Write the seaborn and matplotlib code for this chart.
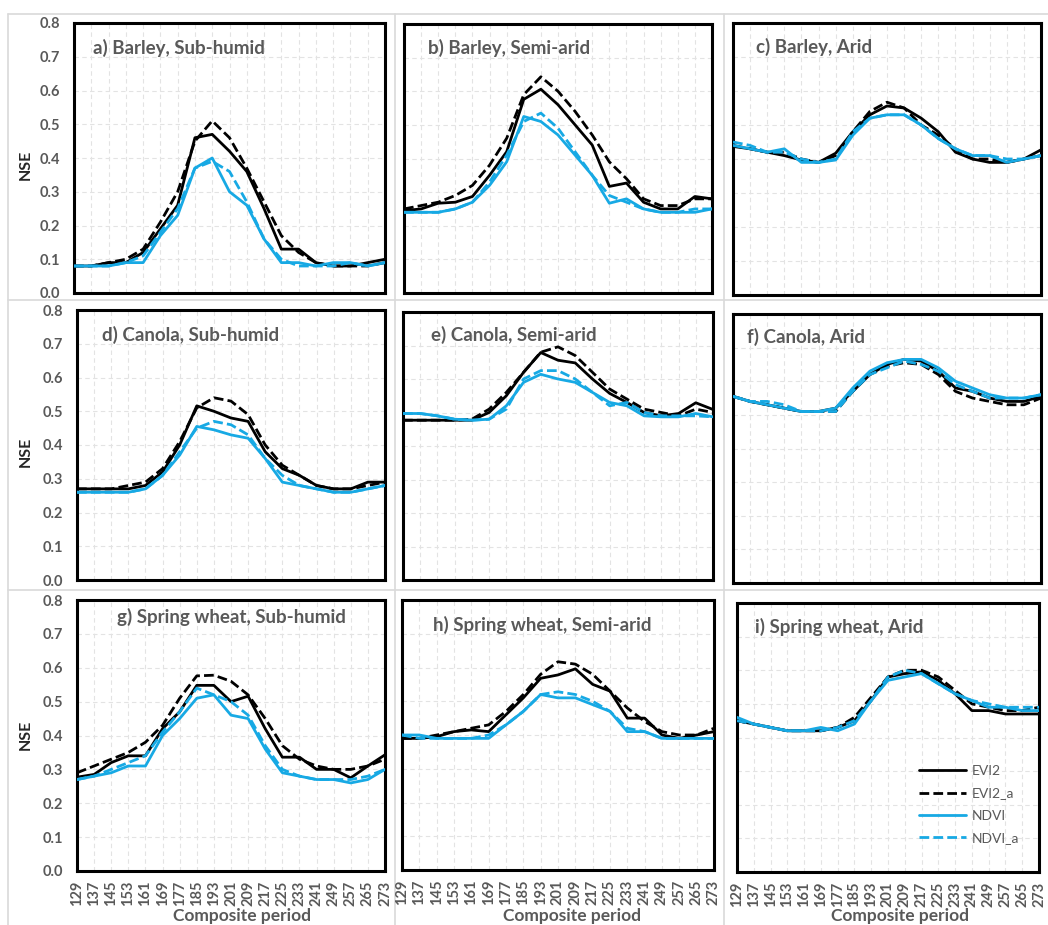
import numpy as np
import pandas as pd
import matplotlib
matplotlib.use("Agg")
import matplotlib.pyplot as plt
from matplotlib.lines import Line2D
import seaborn as sns

# ---------------- data ----------------
periods = [129, 137, 145, 153, 161, 169, 177, 185, 193, 201, 209, 217, 225, 233, 241, 249, 257, 265, 273]
series_names = ["EVI2", "EVI2_a", "NDVI", "NDVI_a"]
panel_titles = ["a) Barley, Sub-humid", "b) Barley, Semi-arid", "c) Barley, Arid",
                "d) Canola, Sub-humid", "e) Canola, Semi-arid", "f) Canola, Arid",
                "g) Spring wheat, Sub-humid", "h) Spring wheat, Semi-arid", "i) Spring wheat, Arid"]
y_ticks = [0.0, 0.1, 0.2, 0.3, 0.4, 0.5, 0.6, 0.7, 0.8]

# a) Barley, Sub-humid
a_evi2   = [0.08, 0.08, 0.09, 0.09, 0.12, 0.19, 0.26, 0.46, 0.47, 0.42, 0.36, 0.25, 0.13, 0.13, 0.09, 0.08, 0.08, 0.09, 0.10]
a_evi2a  = [0.08, 0.08, 0.09, 0.10, 0.13, 0.21, 0.30, 0.45, 0.51, 0.46, 0.37, 0.27, 0.17, 0.12, 0.09, 0.08, 0.08, 0.08, 0.09]
a_ndvi   = [0.08, 0.08, 0.08, 0.09, 0.09, 0.17, 0.23, 0.37, 0.40, 0.30, 0.26, 0.16, 0.09, 0.09, 0.08, 0.09, 0.09, 0.08, 0.09]
a_ndvia  = [0.08, 0.08, 0.08, 0.09, 0.11, 0.18, 0.25, 0.37, 0.39, 0.36, 0.27, 0.16, 0.10, 0.08, 0.08, 0.08, 0.09, 0.08, 0.09]
# b) Barley, Semi-arid
b_evi2   = [0.245, 0.25, 0.267, 0.27, 0.287, 0.35, 0.42, 0.576, 0.606, 0.56, 0.50, 0.44, 0.317, 0.327, 0.27, 0.25, 0.25, 0.287, 0.28]
b_evi2a  = [0.25, 0.26, 0.27, 0.29, 0.32, 0.38, 0.46, 0.59, 0.643, 0.60, 0.54, 0.47, 0.39, 0.34, 0.28, 0.26, 0.26, 0.28, 0.28]
b_ndvi   = [0.24, 0.24, 0.24, 0.25, 0.27, 0.32, 0.39, 0.525, 0.51, 0.47, 0.41, 0.35, 0.267, 0.28, 0.25, 0.24, 0.24, 0.24, 0.25]
b_ndvia  = [0.24, 0.24, 0.24, 0.25, 0.27, 0.33, 0.41, 0.51, 0.535, 0.49, 0.42, 0.35, 0.29, 0.27, 0.25, 0.24, 0.24, 0.25, 0.25]
# c) Barley, Arid
c_evi2   = [0.437, 0.43, 0.42, 0.41, 0.397, 0.39, 0.417, 0.48, 0.53, 0.556, 0.55, 0.52, 0.48, 0.42, 0.40, 0.39, 0.39, 0.40, 0.427]
c_evi2a  = [0.44, 0.43, 0.42, 0.42, 0.40, 0.39, 0.41, 0.48, 0.54, 0.567, 0.55, 0.50, 0.47, 0.43, 0.40, 0.40, 0.39, 0.40, 0.41]
c_ndvi   = [0.44, 0.43, 0.42, 0.43, 0.39, 0.39, 0.397, 0.47, 0.52, 0.53, 0.53, 0.50, 0.46, 0.43, 0.41, 0.41, 0.39, 0.40, 0.41]
c_ndvia  = [0.45, 0.44, 0.42, 0.42, 0.40, 0.39, 0.40, 0.48, 0.52, 0.53, 0.53, 0.50, 0.46, 0.43, 0.41, 0.41, 0.40, 0.40, 0.41]
# d) Canola, Sub-humid
d_evi2   = [0.27, 0.27, 0.27, 0.27, 0.28, 0.32, 0.40, 0.516, 0.50, 0.48, 0.47, 0.38, 0.33, 0.31, 0.28, 0.27, 0.27, 0.29, 0.29]
d_evi2a  = [0.27, 0.27, 0.27, 0.28, 0.29, 0.33, 0.41, 0.51, 0.54, 0.53, 0.49, 0.40, 0.34, 0.31, 0.28, 0.27, 0.27, 0.28, 0.29]
d_ndvi   = [0.26, 0.26, 0.26, 0.26, 0.27, 0.31, 0.37, 0.455, 0.445, 0.43, 0.42, 0.36, 0.29, 0.28, 0.27, 0.26, 0.26, 0.27, 0.28]
d_ndvia  = [0.26, 0.26, 0.26, 0.26, 0.27, 0.31, 0.38, 0.45, 0.47, 0.46, 0.43, 0.36, 0.31, 0.28, 0.27, 0.26, 0.26, 0.27, 0.28]
# e) Canola, Semi-arid
e_evi2   = [0.477, 0.477, 0.477, 0.477, 0.477, 0.50, 0.55, 0.62, 0.679, 0.656, 0.648, 0.60, 0.557, 0.53, 0.50, 0.49, 0.497, 0.529, 0.509]
e_evi2a  = [0.477, 0.477, 0.477, 0.477, 0.48, 0.51, 0.56, 0.62, 0.68, 0.696, 0.67, 0.62, 0.57, 0.54, 0.51, 0.50, 0.49, 0.51, 0.50]
e_ndvi   = [0.497, 0.497, 0.49, 0.48, 0.477, 0.48, 0.52, 0.59, 0.614, 0.60, 0.59, 0.56, 0.53, 0.52, 0.49, 0.487, 0.487, 0.497, 0.487]
e_ndvia  = [0.497, 0.497, 0.49, 0.48, 0.477, 0.48, 0.51, 0.60, 0.625, 0.625, 0.60, 0.56, 0.52, 0.53, 0.50, 0.49, 0.49, 0.49, 0.487]
# f) Canola, Arid
f_evi2   = [0.555, 0.54, 0.53, 0.52, 0.51, 0.51, 0.52, 0.57, 0.62, 0.65, 0.665, 0.66, 0.63, 0.58, 0.57, 0.55, 0.54, 0.54, 0.555]
f_evi2a  = [0.555, 0.54, 0.53, 0.52, 0.51, 0.51, 0.51, 0.57, 0.62, 0.645, 0.655, 0.65, 0.62, 0.57, 0.55, 0.54, 0.53, 0.53, 0.55]
f_ndvi   = [0.555, 0.54, 0.53, 0.52, 0.51, 0.51, 0.52, 0.58, 0.63, 0.655, 0.665, 0.665, 0.64, 0.60, 0.58, 0.56, 0.55, 0.55, 0.56]
f_ndvia  = [0.555, 0.54, 0.54, 0.53, 0.51, 0.51, 0.51, 0.57, 0.62, 0.64, 0.66, 0.65, 0.63, 0.59, 0.57, 0.55, 0.55, 0.55, 0.56]
# g) Spring wheat, Sub-humid
g_evi2   = [0.277, 0.285, 0.32, 0.34, 0.34, 0.42, 0.47, 0.548, 0.548, 0.50, 0.516, 0.42, 0.336, 0.336, 0.30, 0.30, 0.275, 0.31, 0.343]
g_evi2a  = [0.29, 0.31, 0.33, 0.35, 0.38, 0.43, 0.51, 0.576, 0.578, 0.56, 0.52, 0.45, 0.37, 0.33, 0.31, 0.30, 0.30, 0.31, 0.33]
g_ndvi   = [0.27, 0.28, 0.29, 0.31, 0.31, 0.40, 0.45, 0.51, 0.52, 0.46, 0.45, 0.36, 0.29, 0.28, 0.27, 0.27, 0.26, 0.27, 0.30]
g_ndvia  = [0.27, 0.28, 0.30, 0.32, 0.34, 0.41, 0.47, 0.54, 0.52, 0.50, 0.46, 0.37, 0.30, 0.28, 0.27, 0.27, 0.27, 0.28, 0.30]
# h) Spring wheat, Semi-arid
h_evi2   = [0.39, 0.39, 0.395, 0.41, 0.415, 0.41, 0.46, 0.51, 0.568, 0.578, 0.596, 0.55, 0.53, 0.45, 0.45, 0.40, 0.39, 0.40, 0.41]
h_evi2a  = [0.39, 0.39, 0.40, 0.41, 0.42, 0.43, 0.47, 0.52, 0.58, 0.617, 0.61, 0.58, 0.53, 0.48, 0.44, 0.41, 0.40, 0.40, 0.42]
h_ndvi   = [0.40, 0.40, 0.39, 0.39, 0.39, 0.39, 0.43, 0.47, 0.52, 0.51, 0.51, 0.49, 0.47, 0.41, 0.41, 0.39, 0.39, 0.39, 0.39]
h_ndvia  = [0.40, 0.39, 0.39, 0.39, 0.39, 0.40, 0.43, 0.47, 0.52, 0.528, 0.52, 0.50, 0.47, 0.42, 0.41, 0.39, 0.39, 0.39, 0.39]
# i) Spring wheat, Arid
i_evi2   = [0.45, 0.44, 0.43, 0.42, 0.42, 0.42, 0.43, 0.45, 0.51, 0.58, 0.59, 0.595, 0.57, 0.53, 0.48, 0.48, 0.47, 0.47, 0.47]
i_evi2a  = [0.45, 0.44, 0.43, 0.42, 0.42, 0.42, 0.43, 0.46, 0.52, 0.58, 0.60, 0.60, 0.58, 0.54, 0.50, 0.49, 0.48, 0.48, 0.49]
i_ndvi   = [0.46, 0.44, 0.43, 0.42, 0.42, 0.43, 0.42, 0.44, 0.51, 0.57, 0.58, 0.59, 0.56, 0.53, 0.51, 0.49, 0.49, 0.48, 0.48]
i_ndvia  = [0.45, 0.44, 0.43, 0.42, 0.42, 0.42, 0.43, 0.45, 0.51, 0.58, 0.60, 0.59, 0.56, 0.53, 0.51, 0.50, 0.49, 0.49, 0.49]

panel_data = [
    [a_evi2, a_evi2a, a_ndvi, a_ndvia],
    [b_evi2, b_evi2a, b_ndvi, b_ndvia],
    [c_evi2, c_evi2a, c_ndvi, c_ndvia],
    [d_evi2, d_evi2a, d_ndvi, d_ndvia],
    [e_evi2, e_evi2a, e_ndvi, e_ndvia],
    [f_evi2, f_evi2a, f_ndvi, f_ndvia],
    [g_evi2, g_evi2a, g_ndvi, g_ndvia],
    [h_evi2, h_evi2a, h_ndvi, h_ndvia],
    [i_evi2, i_evi2a, i_ndvi, i_ndvia],
]

# ---------------- style ----------------
sns.set_theme(style="white")
plt.rcParams['font.family'] = ['Lato', 'DejaVu Sans']

W, H = 1048, 925
fig = plt.figure(figsize=(W / 100, H / 100), dpi=100)
fig.patch.set_facecolor("white")

BLUE = "#17A9E4"
GREY_TXT = "#595959"
series_style = {
    "EVI2":   dict(color="black", dashes=None),
    "EVI2_a": dict(color="black", dashes=(3.5, 1.5)),
    "NDVI":   dict(color=BLUE, dashes=None),
    "NDVI_a": dict(color=BLUE, dashes=(3.5, 1.5)),
}

# axes boxes in pixels (left, top, right, bottom)
boxes = [
    (74, 23, 385, 293), (404, 24, 712, 293), (733, 23, 1041, 295),
    (77, 310, 385, 580), (403, 312, 713, 580), (733, 314, 1041, 583),
    (77, 600, 385, 871), (402, 600, 714, 870), (737, 603, 1039, 872),
]
title_pos = [(93, 48), (428, 48), (756, 47),
             (102, 335), (431, 335), (747, 337),
             (117, 617), (433, 625), (755, 627)]

# light grey frames of the individual charts
frame_c = "#d9d9d9"
for (x0, y0, x1, y1) in [(8, 14, 1048, 14), (8, 300, 1048, 300), (8, 590, 1048, 590),
                         (8, 14, 8, 925), (395, 14, 395, 925), (724, 14, 724, 925)]:
    fig.add_artist(Line2D([x0 / W, x1 / W], [1 - y0 / H, 1 - y1 / H],
                          transform=fig.transFigure, color=frame_c, lw=1.2, zorder=0))

axes = []
for k, (l, t, r, b) in enumerate(boxes):
    ax = fig.add_axes([l / W, 1 - b / H, (r - l) / W, (b - t) / H])
    axes.append(ax)
    for name, vals in zip(series_names, panel_data[k]):
        df = pd.DataFrame({"period": periods, "NSE": vals})
        st = series_style[name]
        kw = dict(x="period", y="NSE", data=df, ax=ax, color=st["color"], lw=2,
                  label=name, zorder=3)
        line = sns.lineplot(**kw).lines[-1]
        if st["dashes"] is not None:
            line.set_dashes(st["dashes"])
    ax.set_xlim(periods[0], periods[-1])
    ax.set_ylim(0, 0.8)
    ax.set_xticks(periods)
    ax.set_yticks(y_ticks)
    ax.grid(True, color="#e3e3e3", lw=0.8, ls=(0, (4, 3)), zorder=0)
    for sp in ax.spines.values():
        sp.set_visible(True)
        sp.set_color("black")
        sp.set_linewidth(2.2)
    ax.tick_params(length=0)
    ax.set_xlabel("")
    ax.set_ylabel("")
    col, row = k % 3, k // 3
    if col == 0:
        ax.set_yticklabels([f"{v:.1f}" for v in y_ticks], fontsize=10.5,
                           fontweight="bold", color=GREY_TXT)
        ax.tick_params(axis="y", pad=10)
    else:
        ax.set_yticklabels([])
    if row == 2:
        ax.set_xticklabels([str(p) for p in periods], rotation=90, fontsize=10.5,
                           fontweight="bold", color=GREY_TXT)
        ax.tick_params(axis="x", pad=7)
    else:
        ax.set_xticklabels([])
    if ax.get_legend() is not None:
        ax.get_legend().remove()
    tx, ty = title_pos[k]
    fig.text(tx / W, 1 - ty / H, panel_titles[k], fontsize=13.5, fontweight="bold",
             color=GREY_TXT, ha="left", va="center")

# y labels
for yc in (165, 452, 735):
    fig.text(26 / W, 1 - yc / H, "NSE", rotation=90, fontsize=11.5, fontweight="bold",
             color="#262626", ha="center", va="center")
# x labels
for xc in (242, 572, 900):
    fig.text(xc / W, 1 - 916 / H, "Composite period", fontsize=12.5, fontweight="bold",
             color=GREY_TXT, ha="center", va="center")

# legend in panel i
handles = []
for name in series_names:
    st = series_style[name]
    h = Line2D([0], [0], color=st["color"], lw=2)
    if st["dashes"] is not None:
        h.set_dashes(st["dashes"])
    handles.append(h)
leg = axes[8].legend(handles, series_names, loc="upper left",
                     bbox_to_anchor=(919 / W, 1 - 765 / H), bbox_transform=fig.transFigure,
                     frameon=False, fontsize=10, handlelength=3.4, handletextpad=0.4,
                     labelspacing=0.75, borderpad=0, borderaxespad=0)
for t in leg.get_texts():
    t.set_color(GREY_TXT)

fig.savefig("out.png", dpi=100, facecolor="white")
